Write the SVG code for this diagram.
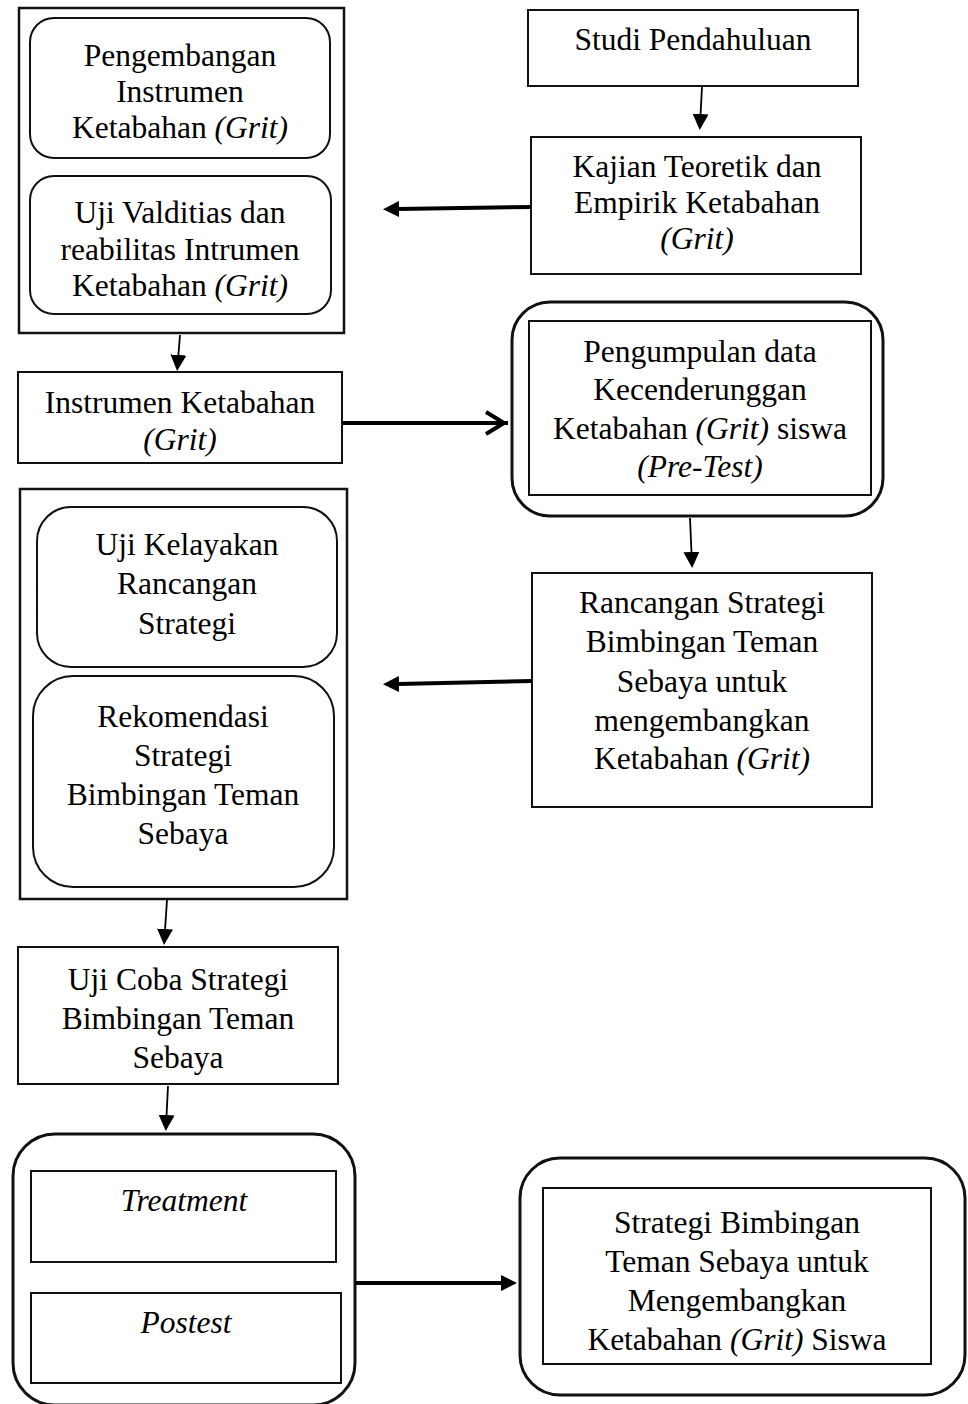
<svg xmlns="http://www.w3.org/2000/svg" width="968" height="1404" viewBox="0 0 968 1404">
<defs>
<style>
.t{font-family:"Liberation Serif","Times New Roman",serif;font-size:31.5px;fill:#000;text-anchor:middle}
.i{font-style:italic}
.box{fill:none;stroke:#111;stroke-width:2}
.frame{fill:none;stroke:#111;stroke-width:2.5}
.outer{fill:none;stroke:#111;stroke-width:3}
.thin{fill:none;stroke:#000;stroke-width:1.8}
.thick{fill:none;stroke:#000;stroke-width:4}
</style>
<marker id="tri" markerUnits="userSpaceOnUse" markerWidth="16" markerHeight="16" viewBox="0 0 16 16" refX="1" refY="8" orient="auto"><path d="M0,0 L16,8 L0,16 z" fill="#000"/></marker>
<marker id="chev" markerUnits="userSpaceOnUse" markerWidth="30" markerHeight="30" viewBox="0 0 30 30" refX="26" refY="15" orient="auto"><path d="M4,4 L22,15 L4,26" fill="none" stroke="#000" stroke-width="4"/></marker>
</defs>
<rect width="968" height="1404" fill="#fff"/>

<g id="node-pengembangan-group">
<rect class="frame" x="19" y="8" width="325" height="325"/>
<g id="node-pengembangan">
<rect class="box" x="30" y="18" width="300" height="140" rx="24"/>
<text class="t" x="180" y="66">Pengembangan</text>
<text class="t" x="180" y="102">Instrumen</text>
<text class="t" x="180" y="138">Ketabahan <tspan class="i">(Grit)</tspan></text>
</g>
<g id="node-uji-validitas">
<rect class="box" x="30" y="176" width="301" height="138" rx="24"/>
<text class="t" x="180" y="223">Uji Valditias dan</text>
<text class="t" x="180" y="260">reabilitas Intrumen</text>
<text class="t" x="180" y="296">Ketabahan <tspan class="i">(Grit)</tspan></text>
</g>
</g>

<g id="node-instrumen">
<rect class="box" x="18" y="372" width="324" height="91"/>
<text class="t" x="180" y="413">Instrumen Ketabahan</text>
<text class="t i" x="180" y="450">(Grit)</text>
</g>

<g id="node-studi">
<rect class="box" x="528" y="10" width="330" height="76"/>
<text class="t" x="693" y="50">Studi Pendahuluan</text>
</g>

<g id="node-kajian">
<rect class="box" x="531" y="137" width="330" height="137"/>
<text class="t" x="697" y="177">Kajian Teoretik dan</text>
<text class="t" x="697" y="213">Empirik Ketabahan</text>
<text class="t i" x="697" y="249">(Grit)</text>
</g>

<g id="node-pengumpulan">
<rect class="outer" x="512" y="302" width="371" height="214" rx="38"/>
<rect class="box" x="529" y="321" width="342" height="174"/>
<text class="t" x="700" y="362">Pengumpulan data</text>
<text class="t" x="700" y="400">Kecenderunggan</text>
<text class="t" x="700" y="439">Ketabahan <tspan class="i">(Grit)</tspan> siswa</text>
<text class="t i" x="700" y="477">(Pre-Test)</text>
</g>

<g id="node-rancangan">
<rect class="box" x="532" y="573" width="340" height="234"/>
<text class="t" x="702" y="613">Rancangan Strategi</text>
<text class="t" x="702" y="652">Bimbingan Teman</text>
<text class="t" x="702" y="692">Sebaya untuk</text>
<text class="t" x="702" y="731">mengembangkan</text>
<text class="t" x="702" y="769">Ketabahan <tspan class="i">(Grit)</tspan></text>
</g>

<g id="node-kelayakan-group">
<rect class="frame" x="20" y="489" width="327" height="410"/>
<g id="node-uji-kelayakan">
<rect class="box" x="37" y="507" width="300" height="160" rx="34"/>
<text class="t" x="187" y="555">Uji Kelayakan</text>
<text class="t" x="187" y="594">Rancangan</text>
<text class="t" x="187" y="634">Strategi</text>
</g>
<g id="node-rekomendasi">
<rect class="box" x="33" y="676" width="301" height="211" rx="40"/>
<text class="t" x="183" y="727">Rekomendasi</text>
<text class="t" x="183" y="766">Strategi</text>
<text class="t" x="183" y="805">Bimbingan Teman</text>
<text class="t" x="183" y="844">Sebaya</text>
</g>
</g>

<g id="node-uji-coba">
<rect class="box" x="18" y="947" width="320" height="137"/>
<text class="t" x="178" y="990">Uji Coba Strategi</text>
<text class="t" x="178" y="1029">Bimbingan Teman</text>
<text class="t" x="178" y="1068">Sebaya</text>
</g>

<g id="node-treatment-group">
<rect class="outer" x="13" y="1134" width="342" height="271" rx="42"/>
<g id="node-treatment">
<rect class="box" x="31" y="1171" width="305" height="91"/>
<text class="t i" x="184" y="1211">Treatment</text>
</g>
<g id="node-postest">
<rect class="box" x="31" y="1293" width="310" height="90"/>
<text class="t i" x="186" y="1333">Postest</text>
</g>
</g>

<g id="node-hasil">
<rect class="outer" x="520" y="1158" width="445" height="237" rx="40"/>
<rect class="box" x="543" y="1188" width="388" height="176"/>
<text class="t" x="737" y="1233">Strategi Bimbingan</text>
<text class="t" x="737" y="1272">Teman Sebaya untuk</text>
<text class="t" x="737" y="1311">Mengembangkan</text>
<text class="t" x="737" y="1350">Ketabahan <tspan class="i">(Grit)</tspan> Siswa</text>
</g>

<g id="connectors">
<path class="thin" d="M180,335 L178.3,356" marker-end="url(#tri)"/>
<path class="thin" d="M702,87 L700.5,115" marker-end="url(#tri)"/>
<path class="thick" d="M531,207 L398,209" marker-end="url(#tri)"/>
<path class="thick" d="M343,423 L508,423" marker-end="url(#chev)"/>
<path class="thin" d="M690,518 L691.5,553" marker-end="url(#tri)"/>
<path class="thick" d="M532,681 L398,684" marker-end="url(#tri)"/>
<path class="thin" d="M167,900 L165,930" marker-end="url(#tri)"/>
<path class="thin" d="M168,1086 L166.5,1116" marker-end="url(#tri)"/>
<path class="thick" d="M355,1283 L502,1283" marker-end="url(#tri)"/>
</g>
</svg>
